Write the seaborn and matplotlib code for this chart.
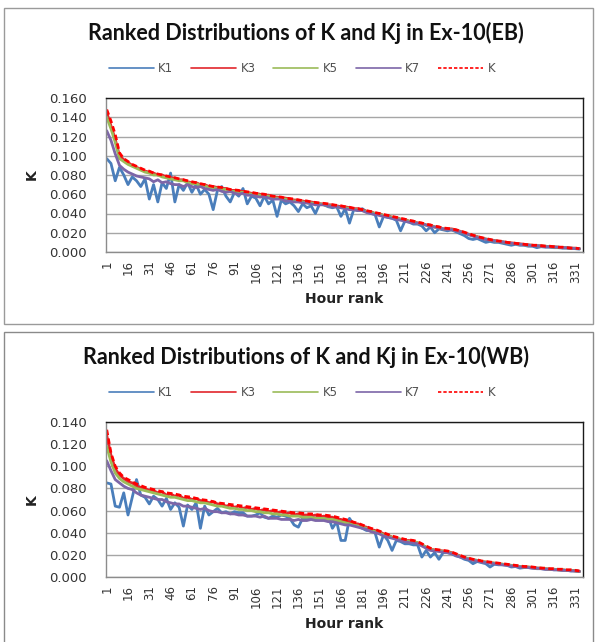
import numpy as np
import pandas as pd
import matplotlib
matplotlib.use("Agg")
import matplotlib.pyplot as plt
from matplotlib.patches import Rectangle
from matplotlib.lines import Line2D
import seaborn as sns

# ---------------- data (K values in thousandths) ----------------
hour_rank = list(range(1, 335, 3))          # 112 ranks: 1, 4, ..., 334
series_names = ["K1", "K3", "K5", "K7", "K"]
x_tick_values = list(range(1, 332, 15))
eb_y_ticks = [0.000, 0.020, 0.040, 0.060, 0.080, 0.100, 0.120, 0.140, 0.160]
wb_y_ticks = [0.000, 0.020, 0.040, 0.060, 0.080, 0.100, 0.120, 0.140]
titles = ["Ranked Distributions of K and Kj in Ex-10(EB)",
          "Ranked Distributions of K and Kj in Ex-10(WB)"]

eb_k1 = [97, 92, 74, 88, 80, 70, 78, 74, 68, 76,
         55, 70, 52, 72, 66, 82, 52, 70, 64, 72,
         62, 70, 60, 65, 60, 44, 64, 68, 58, 52,
         62, 58, 66, 50, 58, 56, 48, 58, 50, 54,
         37, 54, 50, 52, 48, 42, 50, 46, 48, 40,
         50, 49, 47, 46, 47, 37, 45, 30, 44, 43,
         45, 42, 40, 39, 26, 37, 36, 35, 33, 22,
         32, 31, 29, 29, 27, 22, 26, 20, 24, 23,
         22, 23, 21, 19, 17, 14, 13, 14, 12, 10,
         11, 10, 10, 9, 8, 7, 8, 7, 7, 6,
         6, 4.5, 5.5, 5, 5, 4.5, 4.5, 4, 4, 3.5,
         3.5, 3]
eb_k3 = [145, 131, 117, 100, 96, 93, 90, 88, 86, 84,
         83, 82, 80, 80, 78, 77, 77, 75, 75, 73,
         72, 72, 70, 70, 68, 68, 67, 66, 66, 64,
         64, 63, 63, 62, 61, 61, 60, 59, 59, 57,
         57, 56, 56, 55, 54, 54, 53, 52, 52, 51,
         50, 50, 49, 49, 48, 47, 47, 46, 45, 45,
         44, 42, 42, 40, 40, 38, 38, 36, 36, 34,
         34, 32, 32, 30, 30, 28, 28, 26, 26, 24,
         24, 24, 23, 21.5, 20, 18.5, 17, 16, 14.5, 13.5,
         12.5, 12, 11, 10.5, 10, 9.5, 9, 8.5, 8, 7.5,
         7, 6.5, 6.5, 6, 5.5, 5.5, 5, 4.5, 4.5, 4,
         4, 3.5]
eb_k5 = [140, 128, 114, 97, 94, 91, 89, 87, 85, 83,
         82, 80, 80, 78, 77, 76, 75, 74, 74, 72,
         71, 71, 69, 69, 67, 67, 66, 65, 65, 63,
         63, 62, 62, 61, 60, 60, 59, 58, 58, 56,
         56, 55, 55, 54, 53, 53, 52, 51, 51, 50,
         50, 49, 48, 48, 47, 46, 46, 45, 44, 44,
         43, 42, 41, 40, 39, 38, 37, 36, 35, 34,
         33, 32, 31, 30, 29, 28, 27, 26, 25, 24,
         24, 23, 22.5, 21, 19.5, 18, 17, 15.5, 14.5, 13.5,
         12.5, 11.5, 11, 10.5, 9.5, 9, 8.5, 8, 7.5, 7,
         7, 6.5, 6, 6, 5.5, 5, 5, 4.5, 4.5, 4,
         3.5, 3.5]
eb_k7 = [126, 116, 102, 90, 86, 83, 81, 79, 78, 77,
         76, 73, 75, 72, 73, 71, 70, 70, 68, 70,
         68, 67, 68, 66, 65, 64, 65, 63, 62, 63,
         61, 60, 61, 59, 59, 58, 57, 58, 56, 55,
         55, 55, 53, 53, 52, 52, 51, 51, 50, 49,
         49, 49, 48, 47, 47, 46, 45, 44, 44, 43,
         43, 41, 40, 39, 38, 37, 36, 35, 34, 33,
         32, 31, 30, 30, 29, 28, 26, 26, 25, 24,
         23.5, 23, 22, 21, 19.5, 18, 16.5, 15, 14, 13,
         12.5, 11.5, 11, 10.5, 9.5, 9, 8.5, 8, 7.5, 7,
         6.5, 6.5, 6, 5.5, 5.5, 5, 5, 4.5, 4.5, 4,
         3.5, 3.5]
eb_k = [148, 136, 122, 103, 97, 94, 91, 89, 87, 85,
        84, 82, 81, 80, 79, 78, 77, 76, 75, 74,
        73, 72, 71, 70, 69, 68, 67.5, 67, 66, 65,
        64.5, 64, 63, 62.5, 62, 61, 60.5, 60, 59, 58,
        57.5, 57, 56, 55.5, 55, 54, 53.5, 53, 52, 51.5,
        51, 50.5, 50, 49, 48.5, 48, 47, 46.5, 45.5, 45,
        44, 43, 42, 41, 40, 39, 38, 37, 36, 35,
        34, 33, 32, 31, 30, 29, 28, 27, 26, 25,
        24.5, 24, 23, 22, 20.5, 19, 17.5, 16, 15, 14,
        13, 12, 11.5, 11, 10, 9.5, 9, 8.5, 8, 7.5,
        7, 7, 6.5, 6, 6, 5.5, 5, 5, 4.5, 4,
        4, 3.5]

wb_k1 = [85, 84, 64, 63, 76, 56, 72, 88, 74, 72,
         66, 73, 70, 64, 71, 61, 67, 63, 46, 65,
         61, 67, 44, 64, 56, 59, 62, 58, 59, 57,
         59, 58, 58, 55, 55, 56, 58, 54, 53, 55,
         54, 56, 55, 53, 47, 45, 53, 52, 54, 53,
         54, 54, 55, 44, 50, 33, 33, 53, 47, 46,
         44, 42, 42, 40, 27, 38, 33, 24, 33, 32,
         30, 30, 29, 29, 18, 24, 18, 22, 16, 22,
         22, 21, 19, 18, 16, 15, 12, 14, 13, 12,
         9, 11.5, 11, 11, 10.5, 9, 9.5, 8, 8.5, 8.5,
         8, 7.5, 7.5, 7, 7, 6.5, 6.5, 6, 6, 5.5,
         5.5, 5]
wb_k3 = [128, 110, 98, 92, 89, 86, 85, 82, 81, 80,
         78, 78, 76, 77, 74, 75, 73, 74, 71, 72,
         70, 71, 69, 69, 67, 68, 66, 66, 64, 65,
         63, 64, 62, 63, 61, 62, 60, 61, 59, 60,
         58, 59, 57, 58, 56, 57, 56, 56, 55, 56,
         54, 55, 54, 54, 52, 52, 50, 50, 48, 48,
         46, 45, 43, 42, 41, 39, 38, 36, 35, 34,
         33, 33, 32, 31, 29, 27, 25, 24.5, 24, 23.5,
         23, 22, 20.5, 19, 17.5, 16.5, 15.5, 15, 14, 13.5,
         13, 12.5, 12, 11.5, 11, 10.5, 10, 9.5, 9, 9,
         8.5, 8, 8, 7.5, 7, 7, 6.5, 6.5, 6, 6,
         5.5, 5]
wb_k5 = [118, 104, 94, 89, 86, 84, 82, 80, 79, 78,
         77, 76, 75, 74, 73, 72, 72, 71, 70, 69,
         69, 68, 67, 67, 66, 65, 64, 64, 63, 62,
         62, 61, 61, 60, 60, 59, 59, 58, 58, 57,
         57, 56, 56, 55, 55, 55, 54, 54, 54, 53,
         53, 53, 52, 52, 51, 50, 49, 48, 47, 46,
         45, 44, 42, 41, 40, 38, 37, 36, 35, 34,
         33, 32, 32, 31, 29, 27, 25, 24, 24, 23,
         22.5, 21.5, 20, 18.5, 17.5, 16.5, 15.5, 15, 14, 13.5,
         13, 12.5, 12, 11.5, 11, 10.5, 10, 9.5, 9, 9,
         8.5, 8, 8, 7.5, 7, 7, 6.5, 6.5, 6, 6,
         5.5, 5]
wb_k7 = [105, 96, 88, 85, 82, 80, 79, 76, 74, 73,
         72, 71, 70, 70, 68, 67, 66, 66, 64, 64,
         63, 62, 61, 62, 60, 59, 59, 58, 58, 57,
         57, 56, 56, 55, 55, 55, 54, 55, 53, 53,
         53, 52, 52, 52, 51, 52, 51, 51, 52, 51,
         51, 51, 50, 50, 49, 48, 47, 47, 46, 45,
         44, 43, 41, 40, 39, 37, 36, 35, 34, 33,
         32, 31, 31, 30, 28, 26, 24, 23.5, 23, 22.5,
         22, 21, 19.5, 18, 17, 16, 15, 14.5, 13.5, 13,
         12.5, 12, 11.5, 11, 10.5, 10, 9.5, 9, 9, 8.5,
         8, 8, 7.5, 7, 7, 6.5, 6.5, 6, 6, 5.5,
         5.5, 5]
wb_k = [133, 112, 100, 94, 90, 88, 86, 84, 82.5, 81,
        80, 79, 78, 77, 76, 75.5, 75, 74, 73, 72.5,
        72, 71, 70, 69.5, 69, 68, 67, 66.5, 66, 65.5,
        65, 64.5, 64, 63.5, 63, 62.5, 62, 61.5, 61, 60.5,
        60, 59.5, 59, 58.5, 58, 58, 57.5, 57, 57, 56.5,
        56, 56, 55.5, 55, 54, 53, 52, 51, 49.5, 48.5,
        47, 45.5, 44, 43, 41.5, 40, 38.5, 37, 36, 35,
        34, 33.5, 33, 32, 30, 28, 26, 25, 24.5, 24,
        23.5, 22.5, 21, 19.5, 18, 17, 16, 15.5, 14.5, 14,
        13.5, 13, 12.5, 12, 11.5, 11, 10.5, 10, 9.5, 9.5,
        9, 8.5, 8, 8, 7.5, 7.5, 7, 7, 6.5, 6.5,
        6, 5.5]

colors = {"K1": "#4A7EBB", "K3": "#E2262C", "K5": "#9BBB59",
          "K7": "#7D66A8", "K": "#FF0000"}
dashes = {"K1": "", "K3": "", "K5": "", "K7": "", "K": (2.0, 1.2)}

THOUSANDTH = 1e-3


def long_frame(k1, k3, k5, k7, k):
    parts = []
    for name, vals in zip(series_names, [k1, k3, k5, k7, k]):
        parts.append(pd.DataFrame({"rank": hour_rank,
                                   "value": np.asarray(vals, float) * THOUSANDTH,
                                   "series": name}))
    return pd.concat(parts, ignore_index=True)


eb_df = long_frame(eb_k1, eb_k3, eb_k5, eb_k7, eb_k)
wb_df = long_frame(wb_k1, wb_k3, wb_k5, wb_k7, wb_k)

# ---------------- figure ----------------
sns.set_theme(style="white")
plt.rcParams["font.family"] = ["DejaVu Sans"]

W, H = 595, 642
fig = plt.figure(figsize=(W / 100, H / 100), dpi=100)
fig.patch.set_facecolor("white")

# chart-area borders
fig.add_artist(Rectangle((4 / W, 1 - 324 / H), 589 / W, 316 / H, transform=fig.transFigure,
                         fill=False, edgecolor="#9a9a9a", linewidth=1.0))
fig.add_artist(Rectangle((4 / W, 1 - 645 / H), 589 / W, 313 / H, transform=fig.transFigure,
                         fill=False, edgecolor="#8a8a8a", linewidth=1.0))

panels = [
    (eb_df, eb_y_ticks, 98, 252, 33, 69, titles[0]),
    (wb_df, wb_y_ticks, 422, 577, 357, 393, titles[1]),
]

for df, yticks, top, bot, title_y, leg_y, title in panels:
    ax = fig.add_axes([106 / W, 1 - bot / H, (583 - 106) / W, (bot - top) / H])
    sns.lineplot(data=df, x="rank", y="value", hue="series", style="series",
                 hue_order=series_names, style_order=series_names,
                 palette=colors, dashes=dashes, estimator=None, sort=False,
                 linewidth=2.0, legend=False, ax=ax)
    ax.set_xlim(0.5, 336.5)
    ax.set_ylim(yticks[0], yticks[-1])
    ax.set_yticks(yticks)
    ax.set_yticklabels([f"{v:.3f}" for v in yticks])
    ax.set_xticks(x_tick_values)
    ax.set_xticklabels([str(v) for v in x_tick_values], rotation=90)
    ax.grid(axis="y", color="#a6a6a6", linewidth=1.0)
    ax.grid(axis="x", visible=False)
    ax.set_axisbelow(True)
    ax.tick_params(axis="y", length=0, pad=13.5, labelsize=9.5, labelcolor="#333333")
    ax.tick_params(axis="x", length=0, pad=6, labelsize=8.5, labelcolor="#333333")
    for s in ["top", "right"]:
        ax.spines[s].set_color("#1a1a1a")
        ax.spines[s].set_linewidth(1.0)
    for s in ["left", "bottom"]:
        ax.spines[s].set_color("#8c8c8c")
        ax.spines[s].set_linewidth(1.0)
    ax.set_xlabel("Hour rank", fontsize=10, fontweight="bold", color="#222222")
    ax.xaxis.set_label_coords(0.5, -40 / (bot - top))
    ax.set_ylabel("K", fontsize=10, fontweight="bold", color="#222222")
    ax.yaxis.set_label_coords((39 - 106) / 477, 0.5)

    fig.text(306 / W, 1 - title_y / H, title, ha="center", va="center",
             fontsize=15.5, fontweight="bold", family=["Lato", "DejaVu Sans"], color="#111111")

    handles = [Line2D([], [], color=colors[n], linewidth=1.2,
                      linestyle=(0, dashes[n]) if dashes[n] else "-") for n in series_names]
    fig.legend(handles, series_names, loc="center", bbox_to_anchor=(302 / W, 1 - leg_y / H),
               ncol=5, frameon=False, fontsize=8.5, handlelength=3.8,
               handletextpad=0.4, columnspacing=1.5, labelcolor="#505050")

fig.savefig("out.png", dpi=100, facecolor="white")
